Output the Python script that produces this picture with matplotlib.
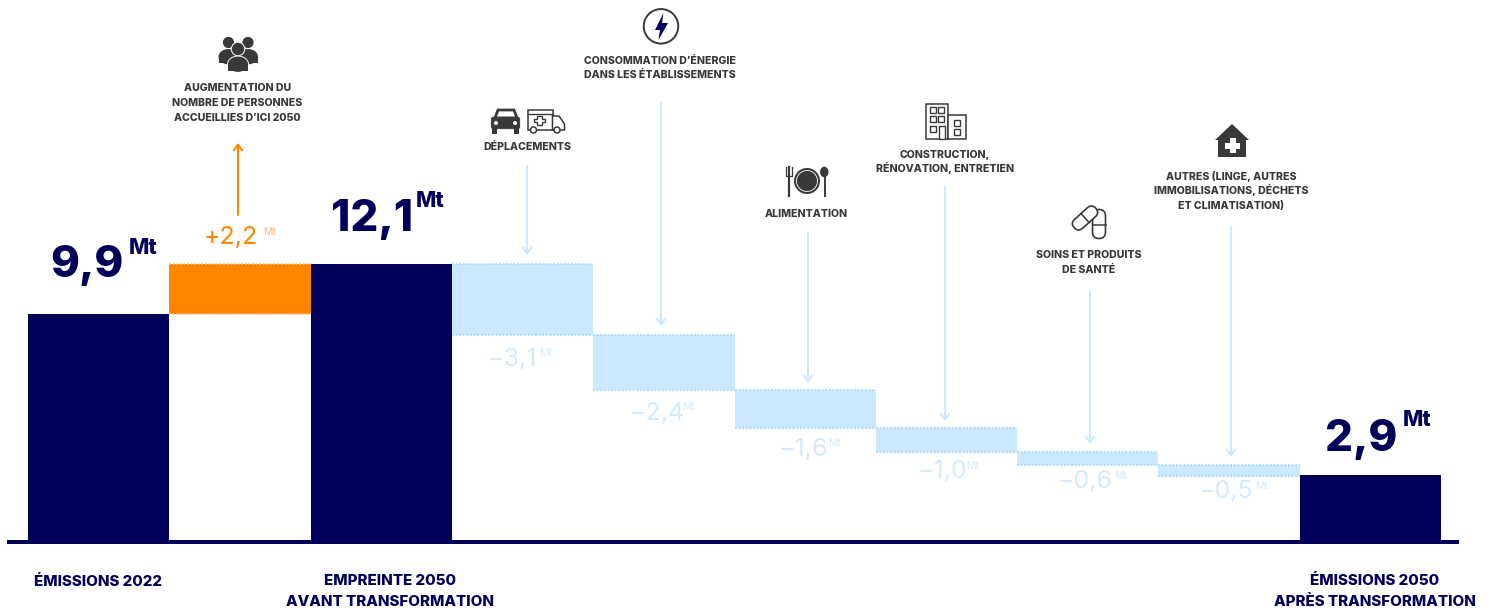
import matplotlib
matplotlib.use("Agg")
import matplotlib.pyplot as plt
from matplotlib.patches import Circle, Rectangle, Polygon, FancyBboxPatch, Ellipse
from matplotlib.transforms import Affine2D

# ---------- data ----------
start_value = 9.9
increase = 2.2
peak_value = 12.1
reductions = [3.12, 2.40, 1.65, 1.04, 0.57, 0.48]
final_value = 2.87
reduction_labels = ["−3,1", "−2,4", "−1,6", "−1,0", "−0,6", "−0,5"]
reduction_names = [
    "DÉPLACEMENTS",
    "CONSOMMATION D’ÉNERGIE\nDANS LES ÉTABLISSEMENTS",
    "ALIMENTATION",
    "CONSTRUCTION,\nRÉNOVATION, ENTRETIEN",
    "SOINS ET PRODUITS\nDE SANTÉ",
    "AUTRES (LINGE, AUTRES\nIMMOBILISATIONS, DÉCHETS\nET CLIMATISATION)",
]
increase_name = "AUGMENTATION DU\nNOMBRE DE PERSONNES\nACCUEILLIES D’ICI 2050"
increase_label = "+2,2"
total_labels = ["9,9", "12,1", "2,9"]
unit = "Mt"
axis_names = ["ÉMISSIONS 2022", "EMPREINTE 2050\nAVANT TRANSFORMATION", "ÉMISSIONS 2050\nAPRÈS TRANSFORMATION"]

NAVY = "#00005a"
ORANGE = "#ff8500"
BLUE = "#cce8ff"
BLUE_EDGE = "#a9d8fb"
BLUE_TXT = "#d3eafd"
GREY = "#3a3838"
FONT = "Inter"

W, H = 1492, 610
fig = plt.figure(figsize=(W / 100, H / 100), dpi=100, facecolor="white")
plt.rcParams["font.family"] = [FONT, "DejaVu Sans"]

# data axes: category index on x, Mt on y
ax = fig.add_axes([0, 0, 1, 1])
STEP = 141.3
PX_MT = 22.9
ax.set_xlim(-28 / STEP - 0.5, (W - 28) / STEP - 0.5)
ax.set_ylim(-(H - 541) / PX_MT, 541 / PX_MT)
ax.axis("off")

ax.bar(0, start_value, width=1, color=NAVY, linewidth=0)
ax.bar(1, increase, bottom=start_value, width=1, color=ORANGE, linewidth=0)
ax.bar(2, peak_value, width=1, color=NAVY, linewidth=0)
ax.hlines([start_value, start_value + increase], 0.5, 1.5, colors="#ffc078", linestyles=(0, (1, 1)), linewidth=1.3)
level = peak_value
for i, d in enumerate(reductions):
    x = 3 + i
    ax.bar(x, d, bottom=level - d, width=1, color=BLUE, linewidth=0)
    ax.hlines([level, level - d], x - 0.5, x + 0.5, colors=BLUE_EDGE, linestyles=(0, (1, 1)), linewidth=1.3)
    level -= d
ax.bar(9, final_value, width=1, color=NAVY, linewidth=0)
ax.hlines(-0.03, (7 - 28) / STEP - 0.5, (1459 - 28) / STEP - 0.5, colors=NAVY, linewidth=2.9)

# overlay in reference pixels for annotations and pictograms
p = fig.add_axes([0, 0, 1, 1])
p.set_xlim(0, W)
p.set_ylim(H, 0)
p.axis("off")
p.patch.set_alpha(0)


def txt(x, y, s, size, color=GREY, weight="bold", ha="center", **kw):
    p.text(x, y, s, fontsize=size, color=color, fontweight=weight, ha=ha, va="center", **kw)


def lines(x, ys, s, size, color, baseline_shift):
    for y, line in zip(ys, s.split("\n")):
        p.text(x, y + baseline_shift, line, fontsize=size, color=color, fontweight="heavy", ha="center", va="baseline")


# category names
for (x, ys), s in zip([(237.5, (87, 102, 117)), (527, (146,)), (660, (60, 74)), (806.5, (213,)),
                       (945, (154, 168)), (1088.5, (254, 269)), (1231, (176, 190, 205))],
                      [increase_name] + reduction_names):
    lines(x, ys, s, 7.55, GREY, 3.8)
lines(98, (581,), axis_names[0], 10.9, NAVY, 5.5)
lines(389.5, (579.5, 600.5), axis_names[1], 10.9, NAVY, 5.5)
lines(1375, (579.5, 600.5), axis_names[2], 10.9, NAVY, 5.5)

# big totals
for (x, y, ux, uy), s in zip([(87, 266, 143, 248), (372, 220, 430, 201), (1361, 439, 1417, 420)], total_labels):
    txt(x, y, s, 31.5, color=NAVY, weight="heavy")
    txt(ux, uy, unit, 15.5, color=NAVY, weight="heavy")

# delta labels
txt(231, 238, increase_label, 18, color=ORANGE, weight="normal")
txt(270, 232, unit, 7.5, color="#ffb877", weight="normal")
for (x, y, ux, uy), s in zip([(512.5, 359, 546, 353), (657, 414, 689, 407), (803, 450, 835, 443),
                              (942, 472, 973, 466), (1085, 482, 1121, 476), (1226, 492, 1262, 486)],
                             reduction_labels):
    txt(x, y, s, 18, color=BLUE_TXT, weight="normal")
    txt(ux, uy, unit, 7.5, color=BLUE_TXT, weight="normal")


# arrows
def arrow(x, y0, y1, color):
    p.annotate("", xy=(x, y1), xytext=(x, y0),
               arrowprops=dict(arrowstyle="->,head_length=0.4,head_width=0.3", color=color, lw=1.5,
                               shrinkA=0, shrinkB=0))


arrow(238, 215, 143, ORANGE)
for x, y0, y1 in [(527, 166, 255), (661, 103, 326), (808, 232, 383), (945, 187, 421), (1090, 291, 444), (1231, 227, 457)]:
    arrow(x, y0, y1, BLUE)


# --- pictograms ---
def person(cx, head_y, r, bw, top, bot, z=3):
    p.add_patch(Ellipse((cx, (top + bot) / 2 + 1), bw + 2, bot - top + 4, fc="white", ec="none", zorder=z))
    p.add_patch(Ellipse((cx, top + (bot - top) * 0.55), bw, (bot - top) * 1.1, fc=GREY, ec="none", zorder=z))
    p.add_patch(Rectangle((cx - bw / 2, top + (bot - top) * 0.55), bw, (bot - top) * 0.45, fc=GREY, ec="none", zorder=z))
    p.add_patch(Circle((cx, head_y), r + 1, fc="white", ec="none", zorder=z))
    p.add_patch(Circle((cx, head_y), r, fc=GREY, ec="none", zorder=z))


person(228.5, 42.5, 5.6, 20, 49, 63, 3)
person(248, 42.5, 5.6, 20, 49, 63, 3)
person(238, 49, 6.2, 20, 56.5, 70.5, 4)

# car
p.add_patch(Polygon([(495, 118), (498, 110), (514, 110), (517, 118)], closed=True, fc="white", ec=GREY, lw=2))
p.add_patch(FancyBboxPatch((492, 118), 27, 10, boxstyle="round,pad=0.8,rounding_size=2", fc=GREY, ec=GREY, lw=0.5))
p.add_patch(Rectangle((492, 128), 5, 6, fc=GREY, ec="none"))
p.add_patch(Rectangle((514, 128), 5, 6, fc=GREY, ec="none"))
p.add_patch(Circle((496, 123), 2, fc="white", ec="none"))
p.add_patch(Circle((515, 123), 2, fc="white", ec="none"))

# ambulance
p.add_patch(Rectangle((527.5, 110), 25, 20, fc="white", ec=GREY, lw=1.1))
p.add_patch(Polygon([(552.5, 116), (559, 116), (564.5, 124), (564.5, 130), (552.5, 130)], closed=True, fc="white", ec=GREY, lw=1.1))
p.plot([527.5, 552.5], [114, 114], color=GREY, lw=1)
p.add_patch(Polygon([(537, 116), (542, 116), (542, 119), (545, 119), (545, 122), (542, 122), (542, 125), (537, 125),
                     (537, 122), (534, 122), (534, 119), (537, 119)], closed=True, fc="white", ec=GREY, lw=1))
p.add_patch(Circle((533.5, 130), 3, fc="white", ec=GREY, lw=1.1, zorder=3))
p.add_patch(Circle((557, 130), 3, fc="white", ec=GREY, lw=1.1, zorder=3))

# energy
p.add_patch(Ellipse((661, 26.3), 34.5, 34.5, fc="white", ec=GREY, lw=1.4))
p.add_patch(Polygon([(663.5, 13), (655, 30), (660, 30), (658.5, 40), (668, 23), (662, 23)], closed=True, fc=NAVY, ec="none"))

# food
p.add_patch(Circle((807, 181), 13, fc=GREY, ec="none"))
p.add_patch(Circle((807, 181), 10.5, fc=GREY, ec="white", lw=0.6))
p.plot([789, 789], [167, 196], color=GREY, lw=1.6)
p.plot([786, 786, 792, 792], [167, 176, 176, 167], color=GREY, lw=0.9)
p.add_patch(Ellipse((824.3, 172), 8.5, 10.5, fc=GREY, ec="none"))
p.plot([824.5, 824.5], [172, 196], color=GREY, lw=1.4)

# buildings
p.add_patch(Rectangle((926, 104), 22, 35, fc="white", ec=GREY, lw=1.1))
p.add_patch(Rectangle((948, 114.5), 18, 24.5, fc="white", ec=GREY, lw=1.1))
for bx in (929.5, 938):
    for by in (107, 116):
        p.add_patch(Rectangle((bx, by), 6, 6, fc="white", ec=GREY, lw=1))
p.add_patch(Rectangle((929.5, 125.5), 6, 6, fc="white", ec=GREY, lw=1))
p.add_patch(Rectangle((939, 125.5), 5.5, 13.5, fc="white", ec=GREY, lw=1))
for by in (119.5, 128.5):
    p.add_patch(Rectangle((953.5, by), 6.5, 6, fc="white", ec=GREY, lw=1))

# pills
pill2 = FancyBboxPatch((1092.5, 209.5), 13, 29, boxstyle="round,pad=0,rounding_size=6.4", fc="white", ec=GREY, lw=1.2, zorder=3)
p.add_patch(pill2)
p.plot([1092.5, 1105.5], [224.5, 224.5], color=GREY, lw=1.1, zorder=4)
rot = Affine2D().rotate_deg_around(1085, 218, -42) + p.transData
pill1 = FancyBboxPatch((1070.5, 212), 29, 12, boxstyle="round,pad=0,rounding_size=5.9", fc="white", ec=GREY, lw=1.2, zorder=5)
pill1.set_transform(rot)
p.add_patch(pill1)
p.plot([1085, 1085], [212, 224], color=GREY, lw=1.1, zorder=6, transform=rot)

# house
p.add_patch(Polygon([(1232, 124), (1249, 140), (1246, 140), (1246, 157), (1218, 157), (1218, 140), (1215, 140)],
                    closed=True, fc=GREY, ec="none"))
p.add_patch(Polygon([(1229.5, 138), (1235.5, 138), (1235.5, 142.5), (1240, 142.5), (1240, 148.5), (1235.5, 148.5),
                     (1235.5, 153), (1229.5, 153), (1229.5, 148.5), (1225, 148.5), (1225, 142.5), (1229.5, 142.5)],
                    closed=True, fc="white", ec="none"))

fig.savefig("out.png", dpi=100, facecolor="white")
